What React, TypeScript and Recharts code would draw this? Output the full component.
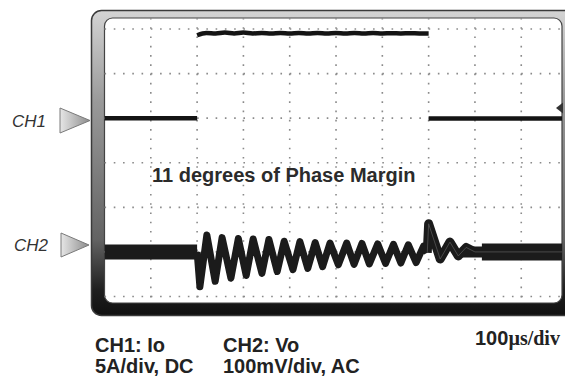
import { LineChart, Line, XAxis, YAxis, CartesianGrid } from "recharts";

// time in µs (100µs/div), trace levels in screen divisions above the bottom graticule line
const timeTicks = [100, 200, 300, 400, 500, 600, 700, 800, 900];
const divTicks = [0, 1, 2, 3, 4, 5, 6];

// CH1: Io
const ch1LowTime = [0, 200];
const ch1LowValue = [4.0, 4.0];
const ch1HighTime = [200, 220, 240, 260, 280, 300, 320, 340, 360, 380, 400, 420, 440, 460, 480, 500, 520, 540, 560, 580, 600, 620, 640, 660, 680, 700];
const ch1HighValue = [5.86, 5.91, 5.9, 5.92, 5.9, 5.92, 5.9, 5.91, 5.9, 5.91, 5.9, 5.91, 5.9, 5.91, 5.9, 5.91, 5.9, 5.91, 5.9, 5.91, 5.9, 5.905, 5.9, 5.905, 5.9, 5.9];
const ch1AfterTime = [700, 988];
const ch1AfterValue = [3.99, 3.99];

// CH2: Vo
const ch2PreTime = [0, 200];
const ch2PreValue = [1.0, 1.0];
const ch2RingTime = [200, 206, 221, 239, 254, 273, 289, 306, 321, 340, 355, 373, 388, 407, 422, 439, 455, 471, 487, 505, 523, 539, 556, 572, 590, 607, 624, 640, 656, 673, 689, 697];
const ch2RingValue = [1.0, 0.22, 1.38, 0.34, 1.32, 0.41, 1.3, 0.47, 1.29, 0.52, 1.28, 0.56, 1.24, 0.6, 1.23, 0.63, 1.21, 0.67, 1.2, 0.71, 1.2, 0.72, 1.19, 0.73, 1.18, 0.74, 1.17, 0.75, 1.16, 0.76, 1.13, 0.98];
const ch2PostTime = [697, 700, 725, 746, 764, 781, 800];
const ch2PostValue = [0.98, 1.63, 0.84, 1.22, 0.91, 1.1, 1.0];
const ch2SettlingTime = [772, 988];
const ch2SettlingValue = [1.0, 1.0];
const ch2SettledTime = [815, 988];
const ch2SettledValue = [1.0, 1.0];

const zip = (t: number[], v: number[]) => t.map((x, i) => ({ t: x, v: v[i] }));

const ch1Low = zip(ch1LowTime, ch1LowValue);
const ch1High = zip(ch1HighTime, ch1HighValue);
const ch1After = zip(ch1AfterTime, ch1AfterValue);
const ch2Pre = zip(ch2PreTime, ch2PreValue);
const ch2Ring = zip(ch2RingTime, ch2RingValue);
const ch2Post = zip(ch2PostTime, ch2PostValue);
const ch2Settling = zip(ch2SettlingTime, ch2SettlingValue);
const ch2Settled = zip(ch2SettledTime, ch2SettledValue);
const ch2Center = [...ch2Post, ch2Settled[1]];

const sans = "'Liberation Sans', Arial, sans-serif";
const serif = "'Liberation Serif', 'Times New Roman', serif";

function Trace({ data, width, color, curve }: any) {
  return (
    <Line
      data={data}
      dataKey="v"
      type={curve || "linear"}
      stroke={color}
      strokeWidth={width}
      strokeLinejoin="round"
      dot={false}
      activeDot={false}
      isAnimationActive={false}
    />
  );
}

export default function App() {
  return (
    <div style={{ position: "fixed", left: 0, top: 0, width: 565, height: 376, overflow: "hidden", background: "#fff" }}>
      {/* bezel, screen, labels */}
      <svg width={565} height={376} style={{ position: "absolute", left: 0, top: 0 }}>
        <defs>
          <linearGradient id="bezel" x1="0" y1="0" x2="0" y2="1">
            <stop offset="0" stopColor="#d4d4d4" />
            <stop offset="0.3" stopColor="#999" />
            <stop offset="0.75" stopColor="#636363" />
            <stop offset="0.92" stopColor="#1e1e1e" />
            <stop offset="1" stopColor="#111" />
          </linearGradient>
          <linearGradient id="tri" x1="0" y1="0" x2="1" y2="0">
            <stop offset="0" stopColor="#e6e6e6" />
            <stop offset="1" stopColor="#8c8c8c" />
          </linearGradient>
        </defs>
        <rect x={91.5} y={10.5} width={490} height={305} rx={10} fill="url(#bezel)" stroke="#3a3a3a" strokeWidth={1.5} />
        <rect x={104.5} y={18} width={457.5} height={285} rx={8} fill="#fff" stroke="#444" strokeWidth={1.2} />

        <polygon points="60,108 60,133 90,120.5" fill="url(#tri)" stroke="#7a7a7a" strokeWidth={1} />
        <polygon points="61,233 61,257 89,245" fill="url(#tri)" stroke="#7a7a7a" strokeWidth={1} />
        <text x={12} y={127} fontFamily={sans} fontStyle="italic" fontSize={17} fill="#333">CH1</text>
        <text x={14} y={251} fontFamily={sans} fontStyle="italic" fontSize={17} fill="#333">CH2</text>

        <g fontFamily={sans} fontWeight="bold" fontSize={20} fill="#222">
          <text x={95} y={352}>CH1: Io</text>
          <text x={95} y={373}>5A/div, DC</text>
          <text x={223} y={352}>CH2: Vo</text>
          <text x={223} y={373}>100mV/div, AC</text>
          <text x={475} y={345}>
            100<tspan fontFamily={serif}>µs/div</tspan>
          </text>
        </g>
      </svg>

      <div style={{ position: "absolute", left: 0, top: 0 }}>
        <LineChart width={565} height={376} margin={{ top: 18, right: 3, bottom: 73, left: 104.5 }}>
          <CartesianGrid stroke="#8a8a8a" strokeWidth={1.6} strokeDasharray="1.6 7.66" syncWithTicks />
          <XAxis dataKey="t" type="number" domain={[0, 988]} ticks={timeTicks} hide allowDataOverflow />
          <YAxis type="number" domain={[-0.146, 6.247]} ticks={divTicks} hide allowDataOverflow />
          {Trace({ data: ch2Pre, width: 15, color: "#1b1b1b" })}
          {Trace({ data: ch2Settling, width: 11, color: "#1b1b1b" })}
          {Trace({ data: ch2Settled, width: 17, color: "#1b1b1b" })}
          {Trace({ data: ch2Ring, width: 7, color: "#1b1b1b" })}
          {Trace({ data: ch2Post, width: 9, color: "#1b1b1b" })}
          {Trace({ data: ch2Center, width: 0.8, color: "#555" })}
          {Trace({ data: ch1Low, width: 4.5, color: "#141414" })}
          {Trace({ data: ch1High, width: 4.5, color: "#141414", curve: "monotone" })}
          {Trace({ data: ch1After, width: 4.5, color: "#141414" })}
        </LineChart>
      </div>

      <svg width={565} height={376} style={{ position: "absolute", left: 0, top: 0, pointerEvents: "none" }}>
        <polygon points="556,108 563,102.5 563,113.5" fill="#333" />
        <text x={152} y={182} fontFamily={sans} fontWeight="bold" fontSize={20} fill="#2b2b2b">
          11 degrees of Phase Margin
        </text>
      </svg>
    </div>
  );
}
